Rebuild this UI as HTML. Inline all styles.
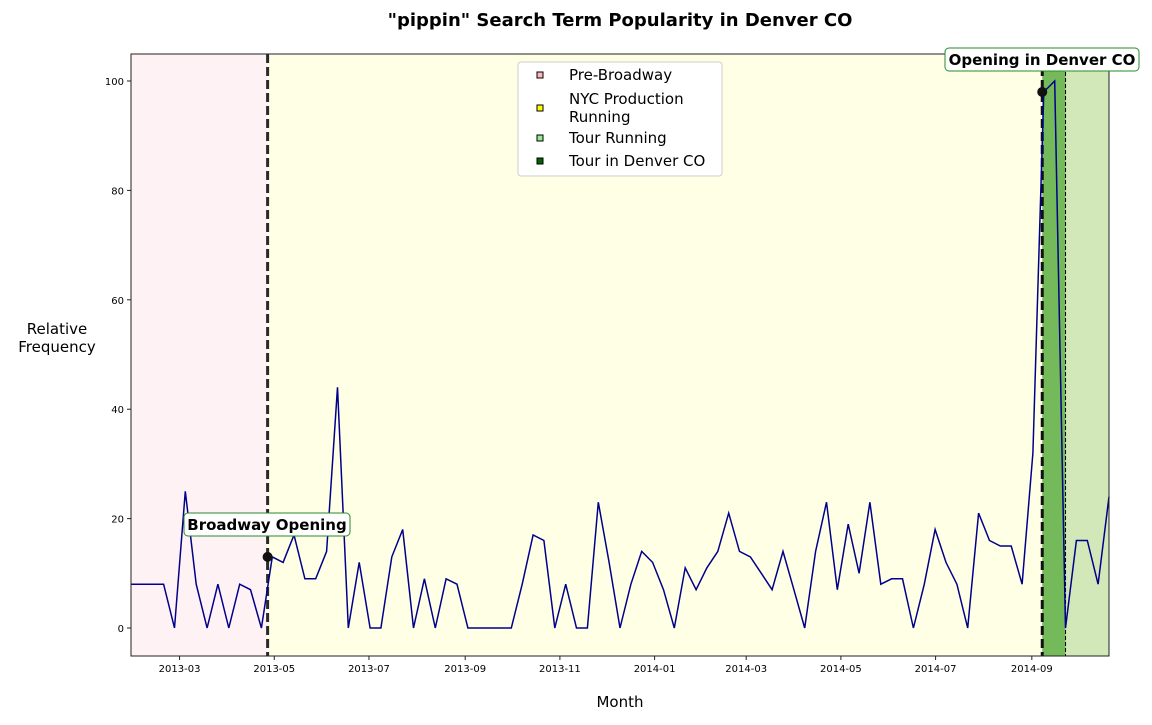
<!DOCTYPE html>
<html><head><meta charset="utf-8"><style>
body{margin:0;background:#fff;}
svg text{font-family:"DejaVu Sans","Liberation Sans",sans-serif;}
</style></head><body>
<svg id="chart" width="1152" height="720" xmlns="http://www.w3.org/2000/svg">
<text x="620" y="26" text-anchor="middle" font-size="18" font-weight="bold">"pippin" Search Term Popularity in Denver CO</text>
<g id="plot"></g>
<text x="620" y="707" text-anchor="middle" font-size="15">Month</text>
<text x="57" y="334" text-anchor="middle" font-size="15"><tspan x="57">Relative</tspan><tspan x="57" dy="18">Frequency</tspan></text>
</svg>
<script>
const startDate = "2013-01-30";
const endDate = "2014-10-22";
const values = [8,8,8,8,0,25,8,0,8,0,8,7,0,13,12,17,9,9,14,44,0,12,0,0,13,18,0,9,0,9,8,0,0,0,0,0,8,17,16,0,8,0,0,23,12,0,8,14,12,7,0,11,7,11,14,21,14,13,10,7,14,7,0,14,23,7,19,10,23,8,9,9,0,8,18,12,8,0,21,16,15,15,8,32,98,100,0,16,16,8,24];
const yTicks = [0,20,40,60,80,100];
const xTickLabels = ["2013-03","2013-05","2013-07","2013-09","2013-11","2014-01","2014-03","2014-05","2014-07","2014-09"];
const broadwayDate = "2013-04-28";
const denverStart = "2014-09-09";
const denverEnd = "2014-09-24";
const broadwayValue = 13;
const denverValue = 98;

const NS="http://www.w3.org/2000/svg";
const L=131,R=1109,T=54,B=656;
const DAY=86400000;
const t0=Date.parse(startDate),t1=Date.parse(endDate);
const xs=d=>L+(d-t0)/(t1-t0)*(R-L);
const ys=v=>628-(v/100)*547;
const g=document.getElementById('plot');
function mk(tag,attrs,parent){const e=document.createElementNS(NS,tag);for(const k in attrs)e.setAttribute(k,attrs[k]);(parent||g).appendChild(e);return e;}
const xb=xs(Date.parse(broadwayDate)),xd=xs(Date.parse(denverStart)),xe=xs(Date.parse(denverEnd));
let r;
r=mk('rect',{x:L,y:T,width:xb-L,height:B-T,fill:'#fff2f5'});


r=mk('rect',{x:xb,y:T,width:xd-xb,height:B-T,fill:'#ffffe6'});


r=mk('rect',{x:xd,y:T,width:xe-xd,height:B-T,fill:'#74b95a'});


r=mk('rect',{x:xe,y:T,width:R-xe,height:B-T,fill:'#d2e8b8'});


mk('line',{x1:xe,x2:xe,y1:T,y2:B,stroke:'#000','stroke-width':1,'stroke-dasharray':'4,2'});
r=mk('line',{x1:xb,x2:xb,y1:T,y2:B,stroke:'#2a2a2a','stroke-width':3,'stroke-dasharray':'9,4'});


r=mk('line',{x1:xd,x2:xd,y1:T,y2:B,stroke:'#111','stroke-width':3,'stroke-dasharray':'9,4'});


let pts=values.map((v,i)=>xs(t0+i*7*DAY).toFixed(1)+','+ys(v).toFixed(1)).join(' ');
r=mk('polyline',{points:pts,fill:'none',stroke:'#00008b','stroke-width':1.5});


r=mk('circle',{cx:xb,cy:ys(broadwayValue),r:5,fill:'#111'});


r=mk('circle',{cx:xd,cy:ys(denverValue),r:5,fill:'#111'});


mk('rect',{x:L,y:T,width:R-L,height:B-T,fill:'none',stroke:'#222','stroke-width':1});
yTicks.forEach(v=>{
  const y=ys(v);
  mk('line',{x1:L-4,x2:L,y1:y,y2:y,stroke:'#222'});
  const t=mk('text',{x:L-7,y:y+4,'text-anchor':'end','font-size':10});t.textContent=v;
  
  
});
xTickLabels.forEach(s=>{
  const x=xs(Date.parse(s+"-01"))+2;
  mk('line',{x1:x,x2:x,y1:B,y2:B+4,stroke:'#222'});
  const t=mk('text',{x:x,y:B+16,'text-anchor':'middle','font-size':10});t.textContent=s;
  
  
});
function ann(x,y,w,txt,name){
  const gg=mk('g',{});
  
  
  mk('rect',{x:x,y:y,width:w,height:23,rx:4,fill:'#fff',stroke:'#2a8a2a','stroke-width':1},gg);
  const t=mk('text',{x:x+w/2,y:y+17,'text-anchor':'middle','font-size':15,'font-weight':'bold'},gg);t.textContent=txt;
}
ann(184,513,166,'Broadway Opening','broadway-annotation');
ann(945,48,194,'Opening in Denver CO','denver-annotation');
const lg=mk('g',{});


mk('rect',{x:518,y:62,width:204,height:114,rx:3,fill:'#fff',stroke:'#ccc'},lg);
const leg=[['Pre-Broadway','#ffb6c1',75],['NYC Production|Running','#ffff00',108],['Tour Running','#90ee90',138],['Tour in Denver CO','#006400',161]];
leg.forEach(([lab,c,y])=>{
  mk('rect',{x:537,y:y-3,width:6,height:6,fill:c,stroke:'#000','stroke-width':1},lg);
  const parts=lab.split('|');
  const t=mk('text',{x:569,y:(parts.length>1?y-4:y+5),'font-size':15},lg);
  parts.forEach((p,i)=>{const ts=mk('tspan',{x:569,dy:i?18:0},t);ts.textContent=p;});
  
  
});
</script>
</body></html>
